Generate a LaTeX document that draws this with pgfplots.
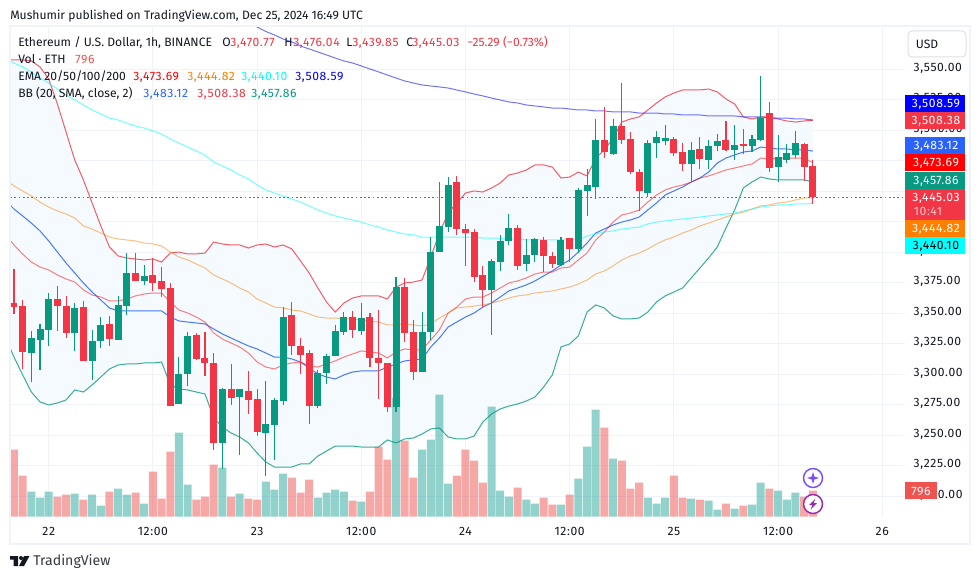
\documentclass[border=0pt]{standalone}
\usepackage{fontspec}
\setmainfont{Fira Sans}
\newfontfamily\numf[LetterSpace=5]{Fira Sans}
\usepackage{pgfplots}
\usepackage{pgfplotstable}
\pgfplotsset{compat=1.18}
\definecolor{tvred}{HTML}{F23645}
\definecolor{tvgreen}{HTML}{089981}
\definecolor{tvblue}{HTML}{2962FF}
\definecolor{tvtext}{HTML}{131722}
\definecolor{tvgrid}{HTML}{F0F3FA}
\definecolor{bbfill}{HTML}{F4FAFE}
\definecolor{volred}{HTML}{EF5350}
\definecolor{volgreen}{HTML}{26A69A}
\definecolor{emaa}{HTML}{FF0000}
\definecolor{emab}{HTML}{FF8000}
\definecolor{emac}{HTML}{00FFFF}
\definecolor{emad}{HTML}{0000FF}
\pgfplotstableread{
t o h l c
-4 3358.5 3386.4 3349.5 3355.3
-3 3356.1 3361.0 3304.4 3318.3
1 3361.8 3372.5 3335.6 3356.1
2 3356.1 3364.3 3329.8 3333.9
4 3355.3 3360.2 3311.0 3311.0
7 3341.3 3347.9 3323.3 3329.0
10 3383.1 3399.5 3376.6 3376.6
12 3381.5 3395.4 3368.4 3374.9
13 3376.6 3388.1 3363.5 3370.0
14 3370.8 3374.9 3274.1 3274.1
17 3332.3 3333.9 3311.8 3312.6
18 3313.4 3334.7 3298.7 3309.3
19 3309.3 3317.5 3238.0 3243.7
21 3288.0 3308.5 3274.9 3280.6
23 3286.4 3302.8 3267.5 3279.0
24 3279.8 3288.0 3249.5 3252.7
28 3348.7 3359.4 3315.9 3323.3
29 3323.3 3329.6 3300.3 3315.9
30 3317.5 3320.0 3259.3 3274.1
35 3347.0 3352.0 3329.8 3336.4
37 3347.0 3350.3 3306.0 3313.4
38 3313.4 3352.8 3279.8 3309.3
39 3309.3 3309.3 3269.1 3273.2
41 3371.7 3379.0 3326.5 3333.9
42 3334.7 3344.6 3295.4 3301.9
47 3457.8 3462.7 3414.3 3419.2
48 3419.2 3423.3 3388.9 3415.9
49 3416.8 3419.2 3375.7 3379.9
50 3381.5 3388.9 3355.3 3369.2
54 3420.0 3422.5 3385.6 3388.9
57 3410.2 3412.7 3384.0 3397.1
58 3397.1 3400.4 3387.2 3390.5
60 3411.8 3411.8 3392.2 3402.8
64 3492.2 3519.3 3477.4 3482.4
66 3503.7 3538.9 3488.9 3492.2
67 3493.0 3498.8 3464.3 3466.0
68 3466.0 3468.4 3434.0 3450.4
72 3493.0 3494.7 3479.1 3481.5
73 3482.4 3489.7 3466.8 3472.5
75 3484.8 3494.7 3468.4 3476.6
78 3492.2 3507.8 3483.2 3484.0
80 3488.9 3501.2 3480.7 3487.3
83 3514.3 3523.4 3466.0 3469.2
87 3488.9 3489.7 3458.6 3470.1
88 3470.77 3476.04 3439.85 3445.03
}\redcandles
\pgfplotstableread{
t o h l c
-2 3317.5 3335.6 3293.7 3329.8
-1 3328.2 3341.3 3303.6 3337.2
0 3336.4 3366.7 3323.3 3361.8
3 3333.9 3358.5 3319.2 3354.4
5 3311.0 3336.4 3295.4 3327.4
6 3327.4 3347.1 3321.6 3340.5
8 3328.2 3364.3 3328.2 3356.9
9 3356.1 3399.5 3348.7 3383.1
11 3376.6 3389.7 3373.3 3380.7
15 3275.7 3314.2 3275.7 3300.3
16 3300.3 3334.7 3290.5 3331.5
20 3243.7 3288.8 3222.4 3288.0
22 3281.4 3288.0 3233.9 3288.0
25 3251.9 3294.6 3216.7 3259.3
26 3258.5 3280.6 3229.8 3279.0
27 3278.2 3355.3 3274.9 3347.1
31 3274.1 3303.6 3272.4 3301.1
32 3301.1 3316.7 3292.1 3315.1
33 3315.1 3340.5 3315.1 3335.6
34 3334.7 3351.1 3332.3 3347.0
36 3335.6 3358.5 3332.3 3346.2
40 3273.2 3379.9 3269.1 3371.7
43 3301.9 3351.1 3301.9 3334.7
44 3334.7 3412.7 3328.2 3400.4
45 3400.4 3457.8 3400.4 3421.7
46 3420.9 3461.9 3416.8 3455.3
51 3369.2 3394.6 3332.3 3393.0
52 3392.2 3414.3 3384.8 3409.4
53 3409.4 3431.5 3406.1 3420.0
55 3390.5 3411.0 3384.8 3397.9
56 3397.9 3411.8 3392.2 3411.0
59 3389.7 3412.7 3388.9 3410.2
61 3402.8 3452.8 3399.5 3451.2
62 3450.4 3468.4 3429.9 3455.3
63 3453.7 3509.4 3443.8 3492.2
65 3480.7 3509.4 3479.9 3503.7
69 3448.7 3492.2 3445.4 3489.7
70 3489.7 3499.6 3477.4 3494.7
71 3491.4 3504.5 3488.1 3493.8
74 3472.5 3490.6 3458.6 3484.0
76 3475.8 3492.2 3468.4 3487.3
77 3487.3 3497.1 3483.2 3491.4
79 3484.0 3504.5 3475.8 3488.1
81 3487.3 3496.3 3482.4 3493.0
82 3492.2 3544.7 3491.4 3510.2
84 3470.1 3496.3 3457.7 3478.3
85 3475.8 3488.9 3473.3 3481.5
86 3479.9 3499.6 3477.4 3489.7
}\greencandles
\pgfplotstableread{
t ub bm lb ea eb ec
-4.46 3557.8 3438.9 3321.6 3410.2 3456.9 3557.0
-4 3557.8 3435.6 3314.2 3406.1 3454.5 3555.3
-3 3557.8 3429.9 3299.5 3398.7 3450.4 3552.1
-2 3557.0 3424.1 3285.5 3392.1 3446.3 3548.0
-1 3552.1 3417.6 3277.3 3388.0 3441.3 3543.0
0 3542.2 3409.4 3274.9 3385.6 3437.2 3538.9
1 3521.7 3400.3 3276.5 3381.5 3434.0 3534.0
2 3498.8 3391.3 3279.0 3378.2 3431.5 3529.1
3 3475.8 3383.1 3287.2 3375.7 3428.2 3525.0
4 3459.4 3374.9 3285.5 3369.2 3421.7 3520.9
5 3440.5 3367.5 3291.3 3365.1 3419.2 3516.8
6 3421.7 3361.0 3297.8 3363.4 3415.9 3513.5
7 3404.4 3354.4 3304.4 3360.2 3412.6 3510.2
8 3397.1 3352.0 3307.7 3360.2 3411.0 3508.6
9 3395.4 3352.0 3308.5 3361.8 3410.2 3506.1
10 3394.6 3352.0 3308.5 3364.3 3409.4 3503.7
11 3393.8 3352.0 3309.3 3365.9 3407.7 3502.0
12 3394.6 3352.0 3309.3 3366.7 3406.9 3499.6
13 3392.1 3352.0 3310.1 3366.7 3405.3 3497.1
14 3399.5 3347.0 3291.3 3359.3 3400.3 3493.0
15 3400.3 3343.8 3288.0 3352.8 3396.2 3489.7
16 3398.7 3342.9 3287.2 3350.3 3393.8 3486.4
17 3398.7 3342.1 3285.5 3347.0 3390.5 3483.2
18 3399.5 3341.3 3283.9 3342.9 3387.2 3479.9
19 3408.5 3337.2 3264.2 3333.9 3381.5 3474.1
20 3406.9 3333.1 3256.8 3329.0 3378.2 3470.9
21 3406.1 3329.8 3251.9 3325.7 3374.9 3467.6
22 3406.1 3326.5 3248.6 3322.4 3370.8 3463.5
23 3403.6 3323.3 3243.7 3317.5 3367.5 3460.2
24 3406.1 3320.8 3235.5 3310.1 3361.8 3455.3
25 3406.9 3317.5 3228.1 3306.0 3358.5 3451.2
26 3404.4 3314.2 3224.0 3304.4 3355.2 3448.7
27 3406.1 3314.2 3224.0 3307.7 3354.4 3446.3
28 3402.8 3312.6 3224.0 3309.3 3352.8 3443.8
29 3393.0 3310.1 3226.5 3310.1 3352.0 3441.3
30 3383.1 3305.2 3226.5 3306.8 3349.5 3438.1
31 3370.8 3300.3 3233.0 3306.0 3347.0 3434.8
32 3359.3 3297.8 3237.1 3308.5 3346.2 3432.3
33 3351.1 3296.2 3241.2 3311.0 3346.2 3429.9
34 3358.5 3299.5 3241.2 3314.2 3345.4 3428.2
35 3362.6 3301.9 3241.2 3316.7 3345.4 3426.6
36 3364.3 3302.8 3240.4 3319.2 3344.6 3424.9
37 3364.3 3302.8 3240.4 3318.3 3343.8 3422.5
38 3364.3 3302.8 3240.4 3317.5 3342.9 3420.8
39 3361.8 3306.0 3246.2 3313.4 3340.5 3418.4
40 3371.6 3308.5 3243.7 3318.3 3340.5 3416.7
41 3374.9 3311.0 3247.0 3320.8 3341.3 3415.1
42 3375.7 3311.8 3247.8 3320.0 3340.5 3414.3
43 3377.4 3312.6 3251.1 3320.0 3339.7 3412.6
44 3396.2 3322.4 3255.2 3328.2 3341.3 3412.6
45 3415.9 3329.8 3256.0 3336.4 3346.2 3412.6
46 3432.3 3338.8 3248.6 3350.3 3350.3 3412.6
47 3440.5 3342.9 3247.0 3355.2 3354.4 3412.6
48 3448.7 3347.0 3247.0 3361.8 3355.2 3412.6
49 3450.4 3350.3 3249.4 3363.4 3356.0 3412.6
50 3449.5 3355.2 3260.9 3363.4 3356.9 3411.8
51 3452.8 3358.5 3267.5 3366.7 3358.5 3411.8
52 3456.9 3363.4 3271.6 3370.8 3360.2 3411.8
53 3463.5 3368.4 3274.0 3374.9 3362.6 3411.0
54 3465.1 3370.8 3275.7 3376.6 3364.3 3411.0
55 3467.6 3373.3 3278.1 3379.0 3365.1 3410.2
56 3471.7 3376.6 3281.4 3382.3 3366.7 3410.2
57 3471.7 3380.7 3289.6 3383.9 3367.5 3410.2
58 3470.0 3384.8 3299.5 3383.9 3368.4 3410.2
59 3461.0 3389.7 3322.4 3387.2 3370.0 3410.2
60 3461.8 3393.8 3324.9 3388.0 3371.6 3410.2
61 3465.9 3400.3 3331.5 3393.8 3374.1 3410.2
62 3462.7 3407.7 3351.1 3399.5 3377.4 3413.5
63 3477.4 3415.9 3356.9 3410.2 3382.3 3415.1
64 3484.0 3419.2 3354.4 3416.7 3384.8 3416.7
65 3493.8 3422.5 3347.9 3424.9 3388.9 3417.6
66 3506.9 3424.9 3345.4 3430.7 3393.8 3419.2
67 3509.4 3426.6 3345.4 3432.3 3397.1 3420.0
68 3511.1 3429.0 3346.2 3434.8 3399.5 3420.8
69 3516.8 3434.8 3351.1 3441.3 3402.8 3423.3
70 3522.5 3440.5 3359.3 3447.1 3406.9 3424.9
71 3527.5 3447.1 3364.3 3451.2 3410.2 3425.8
72 3530.7 3450.4 3367.5 3453.6 3412.6 3426.6
73 3533.2 3453.6 3370.8 3455.3 3415.9 3427.4
74 3533.2 3457.7 3379.0 3457.7 3418.4 3428.2
75 3533.2 3461.0 3387.2 3461.0 3421.7 3429.0
76 3534.0 3465.9 3395.4 3462.7 3424.1 3429.9
77 3531.6 3473.3 3404.4 3465.1 3426.6 3430.7
78 3525.8 3477.4 3420.0 3467.6 3429.0 3431.5
79 3521.7 3479.9 3434.8 3469.2 3431.5 3432.3
80 3511.1 3482.3 3452.8 3470.9 3433.1 3434.0
81 3509.4 3483.2 3457.7 3472.5 3435.6 3435.6
82 3511.1 3486.4 3461.8 3477.4 3438.1 3437.2
83 3511.1 3485.6 3460.2 3476.6 3438.9 3438.1
84 3509.4 3484.8 3459.4 3477.4 3440.5 3438.9
85 3507.8 3484.8 3459.4 3477.4 3441.3 3438.9
86 3506.9 3484.0 3459.4 3477.4 3443.0 3439.7
87 3507.8 3484.0 3459.4 3477.4 3444.6 3439.7
88 3508.38 3483.12 3457.86 3473.69 3444.82 3440.10
}\bands
\pgfplotstableread{
t y
-4.46 3557.8
-4 3557.8
-3 3557.8
-2 3557.0
-1 3552.1
0 3542.2
1 3521.7
2 3498.8
3 3475.8
4 3459.4
5 3440.5
6 3421.7
7 3404.4
8 3397.1
9 3395.4
10 3394.6
11 3393.8
12 3394.6
13 3392.1
14 3399.5
15 3400.3
16 3398.7
17 3398.7
18 3399.5
19 3408.5
20 3406.9
21 3406.1
22 3406.1
23 3403.6
24 3406.1
25 3406.9
26 3404.4
27 3406.1
28 3402.8
29 3393.0
30 3383.1
31 3370.8
32 3359.3
33 3351.1
34 3358.5
35 3362.6
36 3364.3
37 3364.3
38 3364.3
39 3361.8
40 3371.6
41 3374.9
42 3375.7
43 3377.4
44 3396.2
45 3415.9
46 3432.3
47 3440.5
48 3448.7
49 3450.4
50 3449.5
51 3452.8
52 3456.9
53 3463.5
54 3465.1
55 3467.6
56 3471.7
57 3471.7
58 3470.0
59 3461.0
60 3461.8
61 3465.9
62 3462.7
63 3477.4
64 3484.0
65 3493.8
66 3506.9
67 3509.4
68 3511.1
69 3516.8
70 3522.5
71 3527.5
72 3530.7
73 3533.2
74 3533.2
75 3533.2
76 3534.0
77 3531.6
78 3525.8
79 3521.7
80 3511.1
81 3509.4
82 3511.1
83 3511.1
84 3509.4
85 3507.8
86 3506.9
87 3507.8
88 3508.38
88 3457.86
87 3459.4
86 3459.4
85 3459.4
84 3459.4
83 3460.2
82 3461.8
81 3457.7
80 3452.8
79 3434.8
78 3420.0
77 3404.4
76 3395.4
75 3387.2
74 3379.0
73 3370.8
72 3367.5
71 3364.3
70 3359.3
69 3351.1
68 3346.2
67 3345.4
66 3345.4
65 3347.9
64 3354.4
63 3356.9
62 3351.1
61 3331.5
60 3324.9
59 3322.4
58 3299.5
57 3289.6
56 3281.4
55 3278.1
54 3275.7
53 3274.0
52 3271.6
51 3267.5
50 3260.9
49 3249.4
48 3247.0
47 3247.0
46 3248.6
45 3256.0
44 3255.2
43 3251.1
42 3247.8
41 3247.0
40 3243.7
39 3246.2
38 3240.4
37 3240.4
36 3240.4
35 3241.2
34 3241.2
33 3241.2
32 3237.1
31 3233.0
30 3226.5
29 3226.5
28 3224.0
27 3224.0
26 3224.0
25 3228.1
24 3235.5
23 3243.7
22 3248.6
21 3251.9
20 3256.8
19 3264.2
18 3283.9
17 3285.5
16 3287.2
15 3288.0
14 3291.3
13 3310.1
12 3309.3
11 3309.3
10 3308.5
9 3308.5
8 3307.7
7 3304.4
6 3297.8
5 3291.3
4 3285.5
3 3287.2
2 3279.0
1 3276.5
0 3274.9
-1 3277.3
-2 3285.5
-3 3299.5
-4 3314.2
-4.46 3321.6
}\bandarea
\pgfplotstableread{
t v
-4 2050
-3 1255
1 612
2 673
4 520
7 765
10 734
12 1377
13 551
14 1989
17 520
18 612
19 1591
21 612
23 551
24 520
28 1193
29 734
30 1132
35 490
37 765
38 2142
39 1744
41 2326
42 1193
47 1255
48 2050
49 1714
50 1040
54 887
57 581
58 367
60 673
64 2723
66 1714
67 857
68 1040
72 1255
73 581
75 520
78 398
80 337
83 857
87 612
88 796
}\volredt
\pgfplotstableread{
t v
-2 765
-1 581
0 765
3 704
5 673
6 337
8 857
9 673
11 398
15 2570
16 979
20 1499
22 704
25 1071
26 826
27 1316
31 581
32 734
33 826
34 765
36 459
40 3641
43 2050
44 2356
45 3733
46 1010
51 3366
52 796
53 612
55 520
56 398
59 367
61 1163
62 2142
63 3274
65 1775
69 581
70 398
71 581
74 551
76 490
77 214
79 245
81 367
82 1040
84 796
85 520
86 734
}\volgreent
\newcommand{\tvf}{\fontsize{9.1}{11}\selectfont}
\newcommand{\tvn}{\numf\fontsize{9.1}{11}\selectfont}
\begin{document}
\begin{tikzpicture}
\path[use as bounding box,fill=white] (0,0) rectangle (735pt,434.25pt);
\pgfplotsset{base/.style={
  at={(7.5pt,46.5pt)},anchor=south west,scale only axis,
  width=671.25pt,height=367.5pt,
  xmin=-4.457,xmax=98.62}}
% price axis, grid, band fill
\begin{axis}[base,ymin=3183.0,ymax=3584.85,
  axis line style={draw=none},tick style={draw=none},
  grid=major,grid style={tvgrid,line width=0.75pt},
  xtick={0,12,24,36,48,60,72,84,96},
  xticklabels={22,12:00,23,12:00,24,12:00,25,12:00,26},
  x tick label style={font=\tvn,text=tvtext,yshift=-4pt},
  ytick={3200,3225,...,3550},yticklabel pos=right,
  y tick label style={font=\tvn,text=tvtext,anchor=west,inner sep=0pt,xshift=6.25pt,yshift=1pt,
    /pgf/number format/.cd,fixed,fixed zerofill,precision=2,1000 sep={,},assume math mode=true},
  scaled y ticks=false]
\addplot[draw=none,fill=bbfill,forget plot] table[x=t,y=y]{\bandarea} -- cycle;
\end{axis}
% volume
\begin{axis}[base,ymin=-15,ymax=14979,hide axis]
\addplot[ybar,bar width=6pt,bar shift=0pt,draw=none,fill=volred,fill opacity=0.5] table[x=t,y=v]{\volredt};
\addplot[ybar,bar width=6pt,bar shift=0pt,draw=none,fill=volgreen,fill opacity=0.5] table[x=t,y=v]{\volgreent};
\end{axis}
% indicators and candles
\begin{axis}[base,ymin=3183.0,ymax=3584.85,hide axis]
\addplot[tvred,opacity=0.8,line width=0.75pt] table[x=t,y=ub]{\bands};
\addplot[tvgreen,opacity=0.8,line width=0.75pt] table[x=t,y=lb]{\bands};
\addplot[tvblue,opacity=0.85,line width=0.75pt] table[x=t,y=bm]{\bands};
\addplot[emaa,opacity=0.5,line width=0.75pt] table[x=t,y=ea]{\bands};
\addplot[emab,opacity=0.5,line width=0.75pt] table[x=t,y=eb]{\bands};
\addplot[emac,opacity=0.55,line width=0.75pt] table[x=t,y=ec]{\bands};
\addplot[emad,opacity=0.55,line width=0.75pt] table {
23 3588.1
24 3584.9
25 3581.2
26 3578.3
27 3575.0
28 3572.6
29 3569.3
30 3566.8
31 3564.4
32 3561.9
33 3559.4
34 3557.0
35 3555.3
36 3552.9
37 3550.4
38 3548.0
39 3545.5
40 3543.0
41 3540.6
42 3538.9
43 3537.3
44 3536.5
45 3535.7
46 3534.8
47 3533.2
48 3531.6
49 3529.9
50 3528.3
51 3526.6
52 3525.0
53 3523.4
54 3522.5
55 3520.9
56 3520.1
57 3519.3
58 3518.4
59 3518.4
60 3517.6
61 3516.8
62 3516.8
63 3516.0
64 3516.0
65 3515.2
66 3515.2
67 3515.2
68 3514.3
69 3514.3
70 3514.3
71 3513.5
72 3513.5
73 3512.7
74 3512.7
75 3512.7
76 3511.9
77 3511.9
78 3511.9
79 3511.9
80 3511.1
81 3511.1
82 3511.1
83 3510.2
84 3510.2
85 3510.2
86 3509.4
87 3509.4
88 3508.59
};
\addplot[tvred,line width=0.8pt,dash pattern=on 1.3pt off 1.9pt] coordinates {(-4.457,3445.03) (98.62,3445.03)};
\addplot[draw=none,mark=none,error bars/.cd,y dir=plus,y explicit,error mark=none,
  error bar style={tvgreen,line width=0.8pt,solid}]
  table[x=t,y=l,y error plus expr=\thisrow{h}-\thisrow{l}]{\greencandles};
\addplot[draw=none,mark=none,error bars/.cd,y dir=plus,y explicit,error mark=none,
  error bar style={tvgreen,line width=5.25pt,solid}]
  table[x=t,y=o,y error plus expr=\thisrow{c}-\thisrow{o}]{\greencandles};
\addplot[draw=none,mark=none,error bars/.cd,y dir=plus,y explicit,error mark=none,
  error bar style={tvred,line width=0.8pt,solid}]
  table[x=t,y=l,y error plus expr=\thisrow{h}-\thisrow{l}]{\redcandles};
\addplot[draw=none,mark=none,error bars/.cd,y dir=plus,y explicit,error mark=none,
  error bar style={tvred,line width=5.25pt,solid}]
  table[x=t,y=c,y error plus expr=\thisrow{o}-\thisrow{c}]{\redcandles};
\end{axis}
% pixel-coordinate furniture
\begin{scope}[x=0.75pt,y=-0.75pt,shift={(0pt,434.25pt)}]
\draw[tvgrid,line width=1.5pt] (9.5,26.5) rectangle (970,544);
\newcommand{\T}[4]{\node[anchor=mid west,inner sep=0pt,font=\tvf,text=#3] at (#1,#2) {#4};}
\newcommand{\N}[4]{\node[anchor=mid west,inner sep=0pt,font=\tvn,text=#3] at (#1,#2) {#4};}
\T{10}{15.5}{tvtext}{Mushumir published on TradingView.com, Dec 25, 2024 16:49 UTC}
\T{18}{42.5}{tvtext}{Ethereum / U.S. Dollar, 1h, BINANCE}
\T{222}{42.5}{tvtext}{O}\N{230}{42.5}{tvred}{3,470.77}
\T{284}{42.5}{tvtext}{H}\N{293}{42.5}{tvred}{3,476.04}
\T{346}{42.5}{tvtext}{L}\N{352}{42.5}{tvred}{3,439.85}
\T{406}{42.5}{tvtext}{C}\N{412}{42.5}{tvred}{3,445.03}
\T{467}{42.5}{tvred}{−25.29 (−0.73\%)}
\T{18}{60}{tvtext}{Vol · ETH}\N{75}{60}{volred}{796}
\T{18}{76.5}{tvtext}{EMA 20/50/100/200}
\N{133}{76.5}{emaa}{3,473.69}\N{187}{76.5}{emab}{3,444.82}\N{241}{76.5}{emac}{3,440.10}\N{295}{76.5}{emad}{3,508.59}
\T{18}{93.5}{tvtext}{BB (20, SMA, close, 2)}
\N{143}{93.5}{tvblue}{3,483.12}\N{197}{93.5}{tvred}{3,508.38}\N{251}{93.5}{tvgreen}{3,457.86}
\newcommand{\Tg}[5]{\fill[#3] (905,#1) rectangle (965,#2);
  \node[anchor=mid,inner sep=0pt,font=\tvn,text=#4] at (936,{(#1+#2)/2+0.5}) {#5};}
\Tg{95}{112}{emad}{white}{3,508.59}
\Tg{112}{129}{tvred}{white}{3,508.38}
\Tg{137}{154}{tvblue}{white}{3,483.12}
\Tg{154}{171}{emaa}{white}{3,473.69}
\Tg{172}{189}{tvgreen}{white}{3,457.86}
\fill[tvred] (905,189) rectangle (965,220);
\node[anchor=mid,inner sep=0pt,font=\tvn,text=white] at (936,197.5) {3,445.03};
\node[anchor=mid west,inner sep=0pt,font=\tvn,text=white,text opacity=0.7] at (913.5,211.5) {10:41};
\Tg{220}{237}{emab}{white}{3,444.82}
\Tg{237}{254}{emac}{black}{3,440.10}
\fill[volred] (905,482) rectangle (937,499);
\node[anchor=mid,inner sep=0pt,font=\tvn,text=white] at (921,491.5) {796};
\draw[draw=black!12,fill=white,line width=0.75pt,rounded corners=3pt] (908,31) rectangle (966,57);
\node[anchor=mid,inner sep=0pt,font=\tvf,text=tvtext] at (927,45) {USD};
% icons
\definecolor{icona}{HTML}{7B4FFF}\definecolor{iconb}{HTML}{9C27B0}
\draw[icona,fill=white,line width=1.1pt] (813,478) circle (9.5);
\fill[icona] (813,472) -- (814.4,476.6) -- (819,478) -- (814.4,479.4) -- (813,484) -- (811.6,479.4) -- (807,478) -- (811.6,476.6) -- cycle;
\draw[iconb,fill=white,line width=1.1pt] (813,504) circle (9.5);
\fill[iconb] (815.5,498.5) -- (809,505) -- (812.5,505) -- (810.5,509.5) -- (817,503) -- (813.5,503) -- cycle;
% logo
\fill[tvtext] (10,556) rectangle (18,559.5) (13.5,556) rectangle (18,566);
\fill[tvtext] (21,558) circle (2);
\fill[tvtext] (24,556) -- (29.5,556) -- (24,566) -- (19,566) -- cycle;
\node[anchor=mid west,inner sep=0pt,font=\fontsize{10.6}{13}\selectfont,text=tvtext!85] at (33,562) {TradingView};
\end{scope}
\end{tikzpicture}
\end{document}
